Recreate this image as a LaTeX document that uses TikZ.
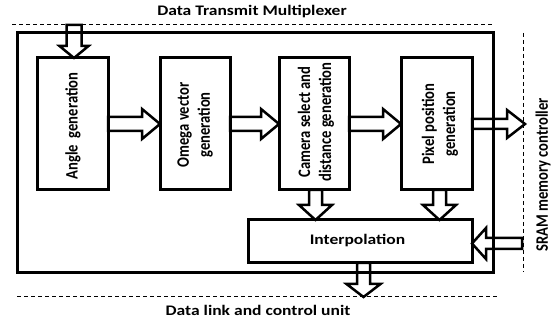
\documentclass[tikz,border=0pt]{standalone}
\usepackage{fontspec}
\setmainfont{Carlito}
\usetikzlibrary{calc}
\newcommand\rarrow[5]{\draw[hollow] let \p1=(#1), \p2=(#2) in (\x1,\y1+#3pt) -- (\x2-#5pt,\y1+#3pt) -- (\x2-#5pt,\y1+#4pt) -- (\x2,\y1) -- (\x2-#5pt,\y1-#4pt) -- (\x2-#5pt,\y1-#3pt) -- (\x1,\y1-#3pt) -- cycle;}
\newcommand\larrow[5]{\draw[hollow] let \p1=(#1), \p2=(#2) in (\x1,\y1+#3pt) -- (\x2+#5pt,\y1+#3pt) -- (\x2+#5pt,\y1+#4pt) -- (\x2,\y1) -- (\x2+#5pt,\y1-#4pt) -- (\x2+#5pt,\y1-#3pt) -- (\x1,\y1-#3pt) -- cycle;}
\newcommand\darrow[5]{\draw[hollow] let \p1=(#1), \p2=(#2) in (\x1-#3pt,\y1) -- (\x1-#3pt,\y2+#5pt) -- (\x1-#4pt,\y2+#5pt) -- (\x1,\y2) -- (\x1+#4pt,\y2+#5pt) -- (\x1+#3pt,\y2+#5pt) -- (\x1+#3pt,\y1) -- cycle;}
\tikzset{
  txt/.style={font=\fontsize{14.6}{17.5}\selectfont\bfseries, inner sep=0pt, outer sep=0pt},
  htxt/.style={txt, xscale=1.2},
  vtxt/.style={txt, align=center, xscale=1.2, rotate=90},
  blockbox/.style={draw, line width=3pt, inner sep=0pt, outer sep=0pt, minimum width=#1},
  hollow/.style={draw, line width=2.5pt, line join=miter},
  sep/.style={line width=1pt, dash pattern=on 4pt off 3pt},
}
\begin{document}
\begin{tikzpicture}[x=1pt, y=-1pt]
\useasboundingbox (0,0) rectangle (552,320);
% separators
\draw[sep] (12,25) -- (494,25);
\draw[sep] (17,297) -- (499,297);
\draw[sep] (523,33) -- (523,272);
% titles
\node[htxt] (ttop) at (252,12) {Data Transmit Multiplexer};
\node[htxt] (tbot) at (258,310.5) {Data link and control unit};
\node[txt, xscale=1.2, rotate=90] (tsram) at (543,175) {SRAM memory controller};
% frame
\draw[line width=3pt] (17,33) rectangle (493,273);
% boxes
\node[blockbox=71pt, minimum height=132pt] (angle) at (72.5,124) {};
\node[blockbox=70pt, minimum height=132pt] (omega) at (195,124) {};
\node[blockbox=70pt, minimum height=132pt] (camera) at (314,124) {};
\node[blockbox=71pt, minimum height=132pt] (pixel) at (436.5,124) {};
\node[blockbox=224pt, minimum height=43pt] (interp) at (360,241.5) {};
% box texts
\node[vtxt] (tangle) at (73,126) {Angle~ generation};
\node[vtxt] (tomega) at (195,125) {Omega vector\\generation};
\node[vtxt] (tcamera) at (316,122) {Camera select and\\distance generation};
\node[vtxt] (tpixel) at (440,124) {Pixel position\\generation};
\node[htxt] (tinterp) at (357.5,241) {Interpolation};
% free ends
\coordinate (topin) at (74,25);
\coordinate (pixout) at (525,124);
\coordinate (sramin) at (522,243.5);
\coordinate (intout) at (363,297);
% hollow arrows
\darrow{topin}{angle.north}{7.5}{14.5}{12}
\rarrow{angle.east}{omega.west}{7}{15}{18}
\rarrow{omega.east}{camera.west}{7}{15}{18}
\rarrow{camera.east}{pixel.west}{7}{15}{18}
\rarrow{pixel.east}{pixout}{5}{14}{18}
\darrow{$(camera.south)+(1.5,0)$}{interp.north}{6.5}{16.5}{15}
\darrow{$(pixel.south)+(3,0)$}{interp.north}{6.5}{16.5}{15}
\darrow{$(interp.south)+(3.5,0)$}{intout}{6.5}{17}{13}
\larrow{sramin}{interp.east}{5.5}{15.5}{14}
\end{tikzpicture}
\end{document}
